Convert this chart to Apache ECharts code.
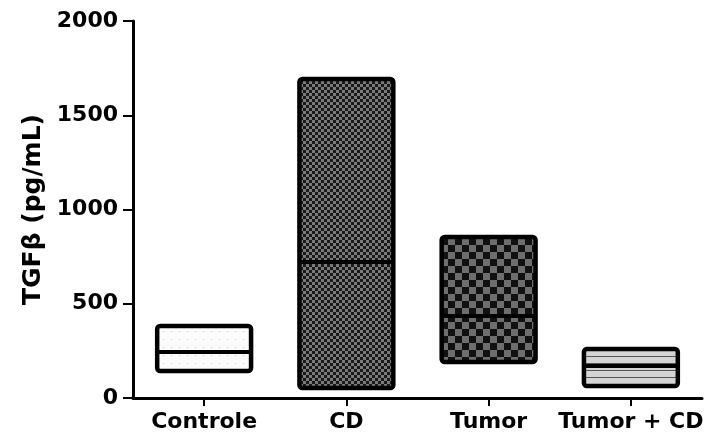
<!DOCTYPE html>
<html><head><meta charset="utf-8">
<script src="https://cdn.jsdelivr.net/npm/echarts@6/dist/echarts.min.js"></script>
<style>html,body{margin:0;padding:0;background:#fff}#c{width:724px;height:441px}</style>
</head><body><div id="c"></div>
<script>
const categories = ['Controle', 'CD', 'Tumor', 'Tumor + CD'];
const minValues = [143, 53, 191, 64];
const medianValues = [244, 721, 435, 170];
const maxValues = [382, 1692, 854, 260];
const yTicks = [0, 500, 1000, 1500, 2000];

function makeCanvas(w, h, draw) {
  const c = document.createElement('canvas');
  c.width = w; c.height = h;
  draw(c.getContext('2d'));
  return c;
}
const patterns = [
  makeCanvas(8, 8, g => { g.fillStyle = '#fbfbfb'; g.fillRect(0,0,8,8); g.fillStyle = '#c8c8c8'; g.fillRect(3,3,1,1); }),
  makeCanvas(6, 6, g => { g.fillStyle = '#1a1a1a'; g.fillRect(0,0,6,6); g.fillStyle = '#7a7a7a'; g.fillRect(0,0,3,3); g.fillRect(3,3,3,3); }),
  makeCanvas(14, 14, g => { g.fillStyle = '#111'; g.fillRect(0,0,14,14); g.fillStyle = '#6e6e6e'; g.fillRect(0,0,7,7); g.fillRect(7,7,7,7); }),
  makeCanvas(8, 7, g => { g.fillStyle = '#d4d4d4'; g.fillRect(0,0,8,7); g.fillStyle = '#555'; g.fillRect(0,6,8,1); })
];

const data = categories.map((c, i) => [i, minValues[i], medianValues[i], maxValues[i]]);
const font = 'DejaVu Sans';

const chart = echarts.init(document.getElementById('c'));
chart.setOption({
  animation: false,
  grid: { left: 133, right: 22, top: 21, bottom: 43 },
  xAxis: {
    type: 'category', data: categories,
    axisLine: { show: true, lineStyle: { color: '#000', width: 3 } },
    axisTick: { show: true, alignWithLabel: true, interval: 0, length: 8, lineStyle: { color: '#000', width: 2 } },
    axisLabel: { interval: 0, hideOverlap: false, color: '#000', fontWeight: 'bold', fontSize: 22, fontFamily: font, margin: 13 }
  },
  yAxis: {
    type: 'value', min: 0, max: 2000, interval: 500,
    name: 'TGFβ (pg/mL)', nameLocation: 'middle', nameGap: 86, nameRotate: 90,
    nameTextStyle: { color: '#000', fontWeight: 'bold', fontSize: 25, fontFamily: font },
    axisLine: { show: true, lineStyle: { color: '#000', width: 3 } },
    axisTick: { show: true, length: 10, lineStyle: { color: '#000', width: 2 } },
    splitLine: { show: false },
    axisLabel: { color: '#000', fontWeight: 'bold', fontSize: 22, fontFamily: font, margin: 15,
      formatter: v => yTicks.includes(v) ? String(v) : '' }
  },
  series: [{
    type: 'custom',
    data: data,
    renderItem: function (params, api) {
      const i = api.value(0);
      const pMin = api.coord([i, api.value(1)]);
      const pMed = api.coord([i, api.value(2)]);
      const pMax = api.coord([i, api.value(3)]);
      const bw = api.size([1, 0])[0] * 0.66;
      const x = pMin[0] - bw / 2;
      return {
        type: 'group',
        children: [
          { type: 'rect', shape: { x: x, y: pMax[1], width: bw, height: pMin[1] - pMax[1], r: 3 },
            style: { fill: { image: patterns[i], repeat: 'repeat' }, stroke: '#000', lineWidth: 4.5 } },
          { type: 'line', shape: { x1: x, y1: pMed[1], x2: x + bw, y2: pMed[1] },
            style: { stroke: '#000', lineWidth: 4 } }
        ]
      };
    }
  }]
});
</script></body></html>
